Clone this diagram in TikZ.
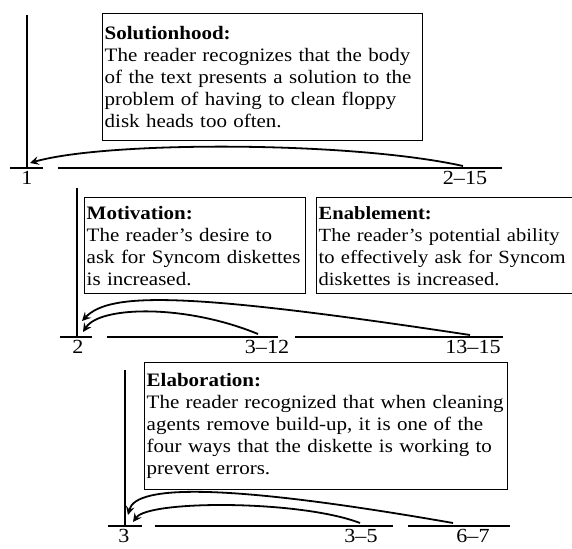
\documentclass[tikz,border=0pt]{standalone}
\usepackage{fontspec}
\setmainfont{Liberation Serif}[FakeStretch=1.105]
\begin{document}
\begin{tikzpicture}
        [x=0.5pt, y=-0.5pt, >=stealth,
         relbox/.style={draw=black, line width=0.7pt, anchor=north west, align=left,
                        inner xsep=1pt, inner ysep=2pt, font=\fontsize{9.5}{11}\selectfont},
         span/.style={line width=0.9pt},
         rel/.style={->, line width=0.9pt},
         num/.style={below, inner sep=0pt, font=\fontsize{10}{11}\selectfont}]

        \useasboundingbox (0,0) rectangle (572,549);

        % text spans
        \foreach \a/\b/\y in {10/43/168, 58/502/168,
                              60/92/337, 107/278/337, 295/503/337,
                              108/142/526, 155/393/526, 408/510/526}
        \draw[span] (\a,\y) -- (\b,\y);

        \foreach \x/\y/\t [count=\i] in {27/171/1, 465/171/2--15,
                                         78/340/2, 267/340/3--12, 473/340/13--15,
                                         124/529/3, 361/529/3--5, 473/529/6--7}
        \node[num] (lab-\i) at (\x,\y) {\t};

        % nuclei
        \coordinate (top-1) at (27,15);
        \coordinate (foot-1) at (27,168);
        \coordinate (top-2) at (77,188);
        \coordinate (foot-2) at (77,337);
        \coordinate (top-3) at (125,370);
        \coordinate (foot-3) at (125,526);
        \foreach \i in {1,...,3}
        \draw[span] (top-\i) -- (foot-\i);

        % satellites
        \coordinate (sat-1) at (463,166);
        \coordinate (sat-2) at (258,334);
        \coordinate (sat-3) at (470,335);
        \coordinate (sat-4) at (360,523);
        \coordinate (sat-5) at (453,523);

        \coordinate (tip-1) at (30,163);
        \coordinate (tip-2) at (83,332);
        \coordinate (tip-3) at (82,321);
        \coordinate (tip-4) at (133,522);
        \coordinate (tip-5) at (128,515);

        \draw[rel] (sat-1) .. controls (350,141) and (107,141) .. (tip-1);
        \draw[rel] (sat-2) .. controls (185,304) and (100,306) .. (tip-2);
        \draw[rel] (sat-3) .. controls (186,292) and (110,292) .. (tip-3);
        \draw[rel] (sat-4) .. controls (300,500) and (149,500) .. (tip-4);
        \draw[rel] (sat-5) .. controls (230,484) and (136,484) .. (tip-5);

        % relations
        \node[relbox, text width=158pt, minimum height=63.5pt] (solution) at (102,13)
            {\textbf{Solutionhood:}\\
             The reader recognizes that the body\\
             of the text presents a solution to the\\
             problem of having to clean floppy\\
             disk heads too often.};
        \node[relbox, text width=108.5pt, minimum height=48pt] (motivation) at (84,197)
            {\textbf{Motivation:}\\
             The reader's desire to\\
             \mbox{ask for Syncom diskettes}\\
             is increased.};
        \node[relbox, text width=126pt, minimum height=48pt,
              font=\fontsize{9.3}{11}\selectfont] (enablement) at (316,197)
            {\textbf{Enablement:}\\
             \mbox{The reader's potential ability}\\
             \mbox{to effectively ask for Syncom}\\
             diskettes is increased.};
        \node[relbox, text width=179.5pt, minimum height=63.5pt] (elaboration) at (144,362)
            {\textbf{Elaboration:}\\
             \mbox{The reader recognized that when cleaning}\\
             agents remove build-up, it is one of the\\
             four ways that the diskette is working to\\
             prevent errors.};

    \end{tikzpicture}
\end{document}
